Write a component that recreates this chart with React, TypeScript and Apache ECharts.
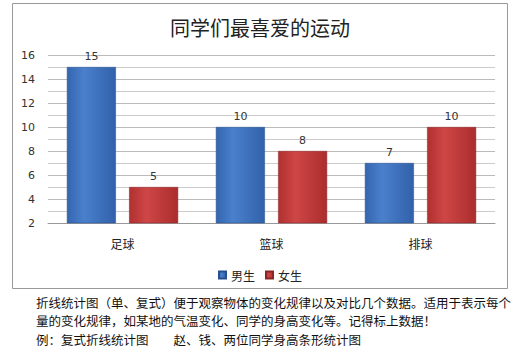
import React, { useEffect, useRef } from "react";
import * as echarts from "echarts";

const categories = ["足球", "篮球", "排球"];
const boys = [15, 10, 7];
const girls = [5, 8, 10];
const seriesNames = ["男生", "女生"];
const title = "同学们最喜爱的运动";
const notes = [
  "折线统计图（单、复式）便于观察物体的变化规律以及对比几个数据。适用于表示每个",
  "量的变化规律，如某地的气温变化、同学的身高变化等。记得标上数据！",
  "例：复式折线统计图　　赵、钱、两位同学身高条形统计图",
];

const cjk = '"Noto Sans CJK SC", "Noto Sans", sans-serif';

export default function App() {
  const ref = useRef<HTMLDivElement>(null);
  useEffect(() => {
    document.body.style.margin = "0";
    const chart = echarts.init(ref.current!, null, { renderer: "svg" });
    const blue = new echarts.graphic.LinearGradient(0, 0, 1, 0, [
      { offset: 0, color: "#3566b0" },
      { offset: 0.35, color: "#4a80cc" },
      { offset: 1, color: "#3161aa" },
    ]);
    const red = new echarts.graphic.LinearGradient(0, 0, 1, 0, [
      { offset: 0, color: "#b03030" },
      { offset: 0.35, color: "#cf4646" },
      { offset: 1, color: "#ab2d2d" },
    ]);
    chart.setOption({
      animation: false,
      backgroundColor: "#ffffff",
      title: {
        text: title,
        left: "center",
        top: 12,
        textStyle: { fontFamily: cjk, fontSize: 20, fontWeight: "normal", color: "#222" },
      },
      grid: { left: 48, right: 25, top: 55, bottom: 132, containLabel: false },
      legend: {
        data: seriesNames,
        left: "center",
        top: 264,
        itemWidth: 7,
        itemHeight: 7,
        itemGap: 10,
        icon: "rect",
        textStyle: { fontFamily: cjk, fontSize: 12, color: "#222" },
      },
      xAxis: {
        type: "category",
        data: categories,
        axisLine: { lineStyle: { color: "#999" } },
        axisTick: { show: false },
        axisLabel: { fontFamily: cjk, fontSize: 12, color: "#222", margin: 14 },
      },
      yAxis: {
        type: "value",
        min: 2,
        max: 16,
        interval: 2,
        axisLine: { show: false },
        axisTick: { show: false },
        axisLabel: { fontFamily: "DejaVu Sans, sans-serif", fontSize: 11, color: "#333", margin: 13 },
        splitLine: { lineStyle: { color: "#bbb" } },
        minorTick: { show: false, splitNumber: 2 },
        minorSplitLine: { show: true, lineStyle: { color: "#ccc" } },
      },
      series: [
        {
          name: seriesNames[0],
          type: "bar",
          data: boys,
          barWidth: 49,
          barGap: "27%",
          itemStyle: { color: blue, borderColor: "#274f8c", borderWidth: 0.5 },
          label: { show: true, position: "top", fontSize: 11, color: "#333", fontFamily: "DejaVu Sans, sans-serif" },
        },
        {
          name: seriesNames[1],
          type: "bar",
          data: girls,
          barWidth: 49,
          itemStyle: { color: red, borderColor: "#8c2424", borderWidth: 0.5 },
          label: { show: true, position: "top", fontSize: 11, color: "#333", fontFamily: "DejaVu Sans, sans-serif" },
        },
      ],
      color: ["#3a6fbf", "#c0393b"],
      graphic: [
        {
          type: "rect",
          shape: { x: 12.5, y: 3.5, width: 495, height: 285 },
          style: { fill: "none", stroke: "#999", lineWidth: 1 },
          silent: true,
          z: -1,
        },
        ...notes.map((t, i) => ({
          type: "text",
          left: 36,
          top: 296 + i * 18.5,
          style: { text: t, fontFamily: cjk, fontSize: 12.5, fill: "#111" },
        })),
      ],
    });
    return () => chart.dispose();
  }, []);
  return <div ref={ref} style={{ width: 520, height: 355 }} />;
}
